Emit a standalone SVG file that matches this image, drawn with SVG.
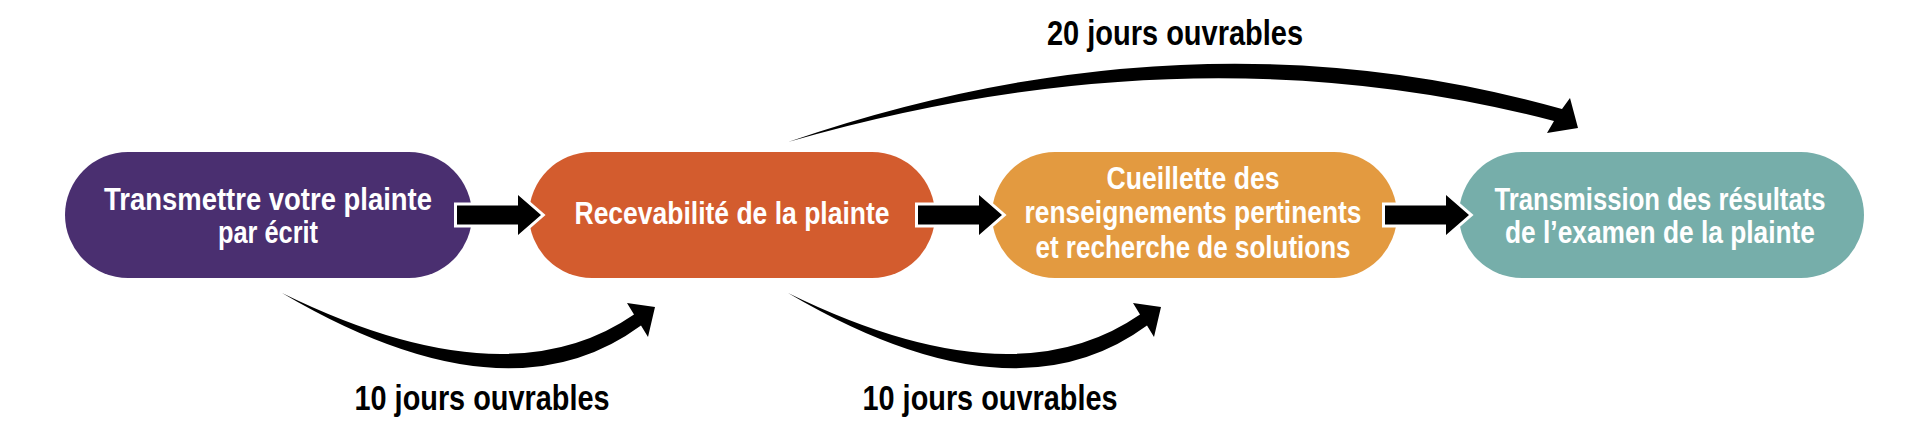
<svg xmlns="http://www.w3.org/2000/svg" width="1920" height="438" viewBox="0 0 1920 438">
<style>
.node-text{font-family:"Liberation Sans Narrow","Liberation Sans",Arial,sans-serif;font-weight:bold;font-size:32px;fill:#ffffff;text-anchor:middle}
.lbl{font-family:"Liberation Sans Narrow","Liberation Sans",Arial,sans-serif;font-weight:bold;font-size:35px;fill:#000000;text-anchor:middle}
.straight{fill:#000000;stroke:#ffffff;stroke-width:6;stroke-linejoin:miter;paint-order:stroke}
.curve{fill:#000000;stroke:none}
</style>
<defs>
<path id="sarrow" d="M0,-9.5 L61,-9.5 L61,-20 L84,0 L61,20 L61,9.5 L0,9.5 Z"/>
</defs>
<rect width="1920" height="438" fill="#ffffff"/>
<g id="node1">
<rect x="65" y="152" width="407" height="126" rx="63" fill="#4a2f70"/>
<text class="node-text" x="268" y="210" textLength="328" lengthAdjust="spacingAndGlyphs">Transmettre votre plainte</text>
<text class="node-text" x="268" y="243" textLength="100" lengthAdjust="spacingAndGlyphs">par écrit</text>
</g>
<g id="node2">
<rect x="529" y="152" width="406" height="126" rx="63" fill="#d35c2e"/>
<text class="node-text" x="732" y="224" textLength="315" lengthAdjust="spacingAndGlyphs">Recevabilité de la plainte</text>
</g>
<g id="node3">
<rect x="992" y="152" width="405" height="126" rx="63" fill="#e39a40"/>
<text class="node-text" x="1193" y="189" textLength="173" lengthAdjust="spacingAndGlyphs">Cueillette des</text>
<text class="node-text" x="1193" y="223" textLength="337" lengthAdjust="spacingAndGlyphs">renseignements pertinents</text>
<text class="node-text" x="1193" y="258" textLength="315" lengthAdjust="spacingAndGlyphs">et recherche de solutions</text>
</g>
<g id="node4">
<rect x="1459" y="152" width="405" height="126" rx="63" fill="#76aeaa"/>
<text class="node-text" x="1660" y="210" textLength="331" lengthAdjust="spacingAndGlyphs">Transmission des résultats</text>
<text class="node-text" x="1660" y="243" textLength="310" lengthAdjust="spacingAndGlyphs">de l’examen de la plainte</text>
</g>
<g id="connectors">
<use href="#sarrow" class="straight" transform="translate(457,215)"/>
<use href="#sarrow" class="straight" transform="translate(918,215)"/>
<use href="#sarrow" class="straight" transform="translate(1385,215)"/>
<path class="curve" d="M282,293 Q506,403 634,314.5 L627,303 L655,307 L648,337 L641,325.5 Q506,425 282,293 Z"/>
<path class="curve" d="M788,293 Q1012,403 1140,314.5 L1133,303 L1161,307 L1154,337 L1147,325.5 Q1012,425 788,293 Z"/>
<path class="curve" d="M788,142 Q1190,4 1562,109 L1570,98 L1578,128 L1547,133 L1554,121 Q1190,26 788,142 Z"/>
</g>
<g id="labels">
<text class="lbl" x="482" y="410" textLength="255" lengthAdjust="spacingAndGlyphs">10 jours ouvrables</text>
<text class="lbl" x="990" y="410" textLength="255" lengthAdjust="spacingAndGlyphs">10 jours ouvrables</text>
<text class="lbl" x="1175" y="45" textLength="256" lengthAdjust="spacingAndGlyphs">20 jours ouvrables</text>
</g>
</svg>
